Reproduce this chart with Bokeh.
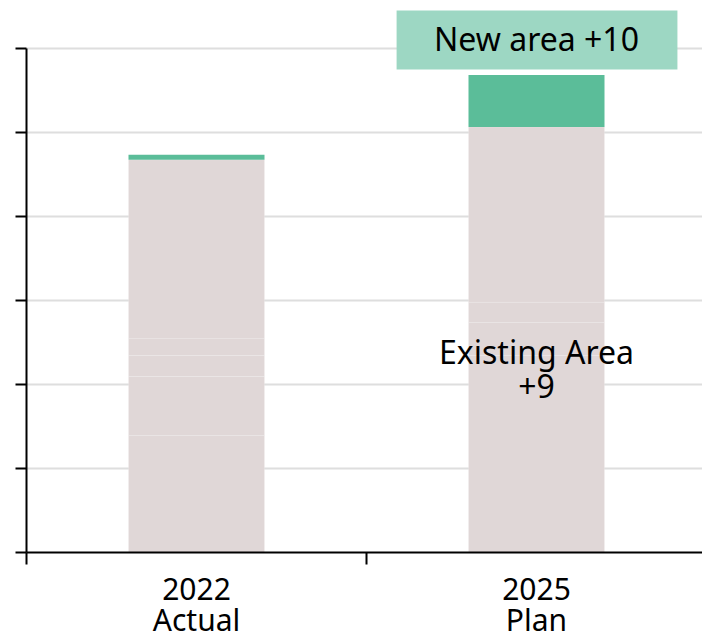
import numpy as np
from bokeh.plotting import figure
from bokeh.models import Range1d, FixedTicker, Label, BoxAnnotation, LinearAxis
from bokeh.embed import file_html
from bokeh.resources import INLINE

# ---- data ----
categories_top = ["2022", "2025"]
categories_bottom = ["Actual", "Plan"]
x_pos = [0.5, 1.5]
existing_2022 = [27.9, 14.0, 5.0, 4.0, 42.6]   # stacked segments of existing area
existing_2025 = [46.9, 7.9, 4.8, 41.7]
new_area = [1.2, 12.4]
y_ticks = [0, 20, 40, 60, 80, 100, 120]
new_label = "New area +10"
existing_label = ["Existing Area", "+9"]

FONT = "Noto Sans"
PALE = "#e0d7d7"
GREEN = "#5bbd99"
BOX = "#9dd7c3"

p = figure(width=702, height=639, frame_width=676, frame_height=546,
           min_border_left=26, min_border_right=0, min_border_top=6,
           min_border_bottom=0,
           x_range=Range1d(0, 676 / 340), y_range=Range1d(0, 130),
           output_backend="svg", toolbar_location=None)
p.outline_line_color = None
p.background_fill_color = "white"
p.border_fill_color = "white"

# existing-area stacked segments
bar_w = 0.4
for xc, segs in zip(x_pos, [existing_2022, existing_2025]):
    tops = np.cumsum(segs)
    bottoms = tops - np.array(segs)
    p.vbar(x=[xc] * len(segs), bottom=bottoms, top=tops, width=bar_w,
           fill_color=PALE, line_color="white", line_alpha=0.12, line_width=1)

# new area on top
ex_tot = [sum(existing_2022), sum(existing_2025)]
p.vbar(x=x_pos, bottom=ex_tot, top=[e + n for e, n in zip(ex_tot, new_area)],
       width=bar_w, fill_color=GREEN, line_color=None)

# axes
p.xgrid.visible = False
p.ygrid.grid_line_color = "#dedede"
p.ygrid.grid_line_width = 2

yax = p.yaxis[0]
yax.ticker = FixedTicker(ticks=y_ticks)
yax.bounds = (y_ticks[0], y_ticks[-1])
yax.major_label_overrides = {t: "" for t in y_ticks}
yax.major_tick_out = 11
yax.major_tick_in = 0
yax.minor_tick_line_color = None
yax.axis_line_width = 2
yax.major_tick_line_width = 2
yax.axis_line_color = "black"
yax.major_tick_line_color = "black"

xax = p.xaxis[0]
xax.ticker = FixedTicker(ticks=x_pos, minor_ticks=[0, 1, 2])
xax.major_label_overrides = {x: c for x, c in zip(x_pos, categories_top)}
xax.major_tick_line_color = None
xax.major_tick_out = 0
xax.major_tick_in = 0
xax.minor_tick_line_color = "black"
xax.minor_tick_line_width = 2
xax.minor_tick_out = 12
xax.minor_tick_in = 0
xax.axis_line_width = 2
xax.axis_line_color = "black"
xax.major_label_text_font = FONT
xax.major_label_text_font_size = "30px"
xax.major_label_text_color = "black"
xax.major_label_standoff = 13

xax2 = LinearAxis(ticker=FixedTicker(ticks=x_pos, minor_ticks=[]),
                  major_label_overrides={x: c for x, c in zip(x_pos, categories_bottom)},
                  axis_line_color=None, major_tick_line_color=None,
                  minor_tick_line_color=None, major_tick_out=0, major_tick_in=0,
                  minor_tick_out=0, minor_tick_in=0,
                  major_label_text_font=FONT, major_label_text_font_size="30px",
                  major_label_text_color="black", major_label_standoff=-4)
p.add_layout(xax2, "below")

# annotations
p.add_layout(BoxAnnotation(left=x_pos[1] + 0.0015 - 0.413,
                           right=x_pos[1] + 0.0015 + 0.413,
                           bottom=115, top=129.05, fill_color=BOX, fill_alpha=1,
                           line_color=None))
p.add_layout(Label(x=x_pos[1], y=122.3, text=new_label, text_align="center",
                   text_baseline="alphabetic", text_font=FONT,
                   text_font_size="32px", text_color="black"))
p.add_layout(Label(x=x_pos[1], y=47.8, text=existing_label[0], text_align="center",
                   text_baseline="alphabetic", text_font=FONT,
                   text_font_size="32px", text_color="black"))
p.add_layout(Label(x=x_pos[1], y=39.6, text=existing_label[1], text_align="center",
                   text_baseline="alphabetic", text_font=FONT,
                   text_font_size="32px", text_color="black"))

open("out.html", "w").write(file_html(p, INLINE))
